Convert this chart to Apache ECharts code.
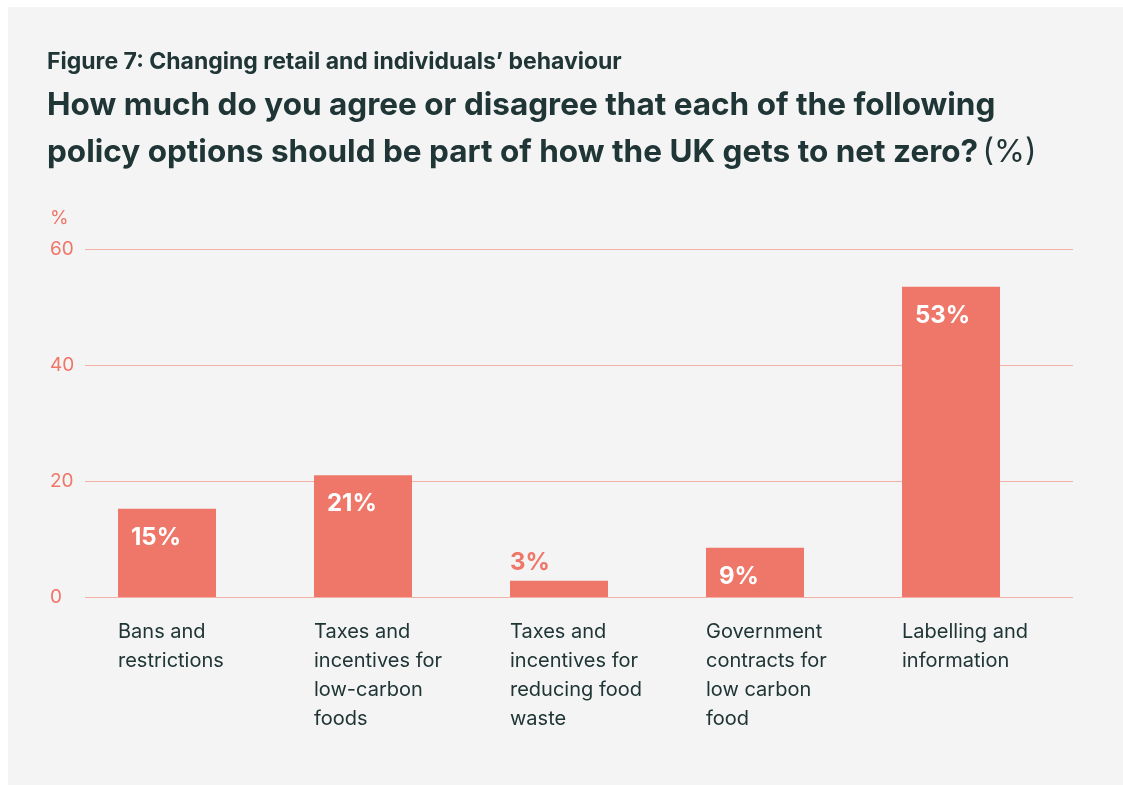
<!DOCTYPE html>
<html>
<head>
<meta charset="utf-8">
<script src="https://cdn.jsdelivr.net/npm/echarts@6/dist/echarts.min.js"></script>
<style>
  html, body { margin: 0; padding: 0; background: #ffffff; }
  #panel {
    position: absolute; left: 8px; top: 7px;
    width: 1115px; height: 778px;
    background: #f3f4f3;
  }
</style>
</head>
<body>
<div id="panel"></div>
<script>
// chart data
var categories = [
    'Bans and restrictions',
    'Taxes and incentives for low-carbon foods',
    'Taxes and incentives for reducing food waste',
    'Government contracts for low carbon food',
    'Labelling and information'
];
var shares = [15.2, 21.0, 2.8, 8.5, 53.5];
var shareLabels = ['15%', '21%', '3%', '9%', '53%'];
var yTicks = [0, 20, 40, 60];

var CORAL = '#ee7769';
var GRID_LINE = '#f3b0a6';
var INK = '#203535';
var FONT = 'Inter, "Noto Sans", sans-serif';

var chart = echarts.init(document.getElementById('panel'), null, { renderer: 'canvas' });

// small bars get their label above, in coral
var barData = shares.map(function(v, i) {
    var item = { value: v };
    if (v < 5) {
        item.label = { position: [0, -30], color: CORAL };
    }
    return item;
});

var yMax = yTicks[yTicks.length - 1];
var yStep = yTicks[1] - yTicks[0];

var option = {
    backgroundColor: 'transparent',
    textStyle: { fontFamily: FONT },
    title: [{
        left: 39, top: 44, padding: 0,
        text: 'Figure 7: Changing retail and individuals\u2019 behaviour',
        textStyle: { fontFamily: FONT, fontSize: 23, fontWeight: 700, color: INK }
    }, {
        left: 39, top: 75, padding: 0,
        text: '{b|How much do you agree or disagree that each of the following}\n{b|policy options should be part of how the UK gets to net zero?} {n|(%)}',
        textStyle: {
            fontFamily: FONT,
            rich: {
                b: { fontFamily: FONT, fontSize: 31.5, fontWeight: 700, color: INK, lineHeight: 47 },
                n: { fontFamily: FONT, fontSize: 31.5, fontWeight: 400, color: INK, lineHeight: 47 }
            }
        }
    }, {
        left: 42, top: 202, padding: 0,
        text: '%',
        textStyle: { fontFamily: FONT, fontSize: 19, fontWeight: 400, color: CORAL }
    }],
    grid: [
        // gridlines + y labels
        { left: 77, top: 242, width: 988, height: 348 },
        // bars
        { left: 61, top: 242, width: 980, height: 348 },
        // category labels, aligned on bar left edges
        { left: 110, top: 242, width: 784, height: 348 }
    ],
    xAxis: [
        { gridIndex: 0, type: 'category', data: [''], show: false },
        { gridIndex: 1, type: 'category', data: categories, show: false },
        {
            gridIndex: 2, type: 'category', data: categories, boundaryGap: false,
            axisLine: { show: false }, axisTick: { show: false }, splitLine: { show: false },
            axisLabel: {
                interval: 0, align: 'left', margin: 20,
                fontFamily: FONT, fontSize: 20, color: INK, lineHeight: 29,
                width: 145, overflow: 'break'
            }
        }
    ],
    yAxis: [
        {
            gridIndex: 0, type: 'value', min: 0, max: yMax, interval: yStep,
            axisLine: { show: false }, axisTick: { show: false },
            splitLine: { show: true, lineStyle: { color: GRID_LINE, width: 1, type: 'solid', opacity: 1 } },
            axisLabel: { align: 'left', margin: 35, fontFamily: FONT, fontSize: 19, color: CORAL }
        },
        { gridIndex: 1, type: 'value', min: 0, max: yMax, show: false, splitLine: { show: false } },
        { gridIndex: 2, type: 'value', min: 0, max: yMax, show: false, splitLine: { show: false } }
    ],
    series: [{
        type: 'bar',
        xAxisIndex: 1, yAxisIndex: 1,
        data: barData,
        barWidth: 98,
        itemStyle: { color: CORAL },
        label: {
            show: true,
            position: [13, 17],
            fontFamily: FONT, fontSize: 24, fontWeight: 700, color: '#ffffff',
            formatter: function(p) { return shareLabels[p.dataIndex]; }
        },
        silent: true,
        animation: false
    }],
    animation: false
};

chart.setOption(option);
</script>
</body>
</html>
